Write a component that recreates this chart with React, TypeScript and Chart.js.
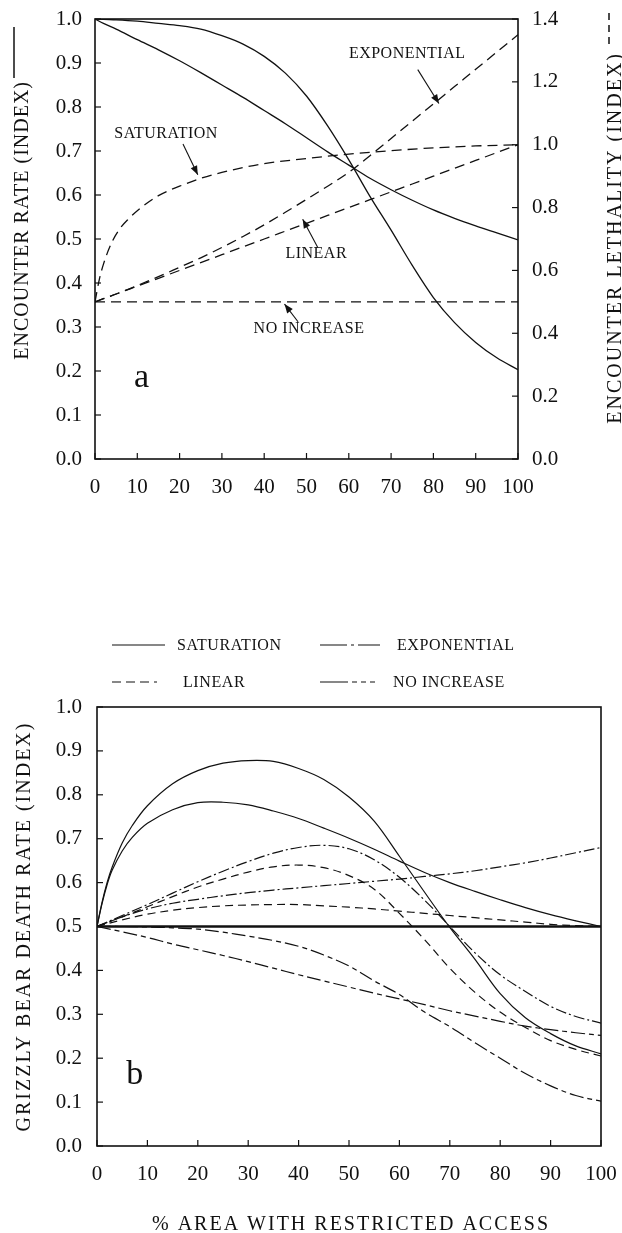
import React, { useEffect, useRef } from "react";
import { Chart, registerables } from "chart.js";

Chart.register(...registerables);

const SERIF = '"Liberation Serif", "Times New Roman", Times, serif';
const INK = "#111111";

// ---------- shared axis ticks ----------
const xTickValues = [0, 10, 20, 30, 40, 50, 60, 70, 80, 90, 100];
const xTickLabels = ["0", "10", "20", "30", "40", "50", "60", "70", "80", "90", "100"];
const unitTickValues = [0, 0.1, 0.2, 0.3, 0.4, 0.5, 0.6, 0.7, 0.8, 0.9, 1.0];
const unitTickLabels = ["0.0", "0.1", "0.2", "0.3", "0.4", "0.5", "0.6", "0.7", "0.8", "0.9", "1.0"];
const lethalTickValues = [0, 0.2, 0.4, 0.6, 0.8, 1.0, 1.2, 1.4];
const lethalTickLabels = ["0.0", "0.2", "0.4", "0.6", "0.8", "1.0", "1.2", "1.4"];

// ---------- panel a : encounter rate (left axis) ----------
const rateX = [0, 2, 5, 10, 15, 20, 25, 30, 35, 40, 45, 50, 55, 60, 65, 70, 75, 80, 85, 90, 95, 100];
const rateGradual = [1.0, 0.99, 0.977, 0.953, 0.93, 0.905, 0.878, 0.85, 0.822, 0.792, 0.762, 0.73, 0.698, 0.668, 0.638, 0.612, 0.588, 0.566, 0.547, 0.53, 0.514, 0.498];
const rateSigmoid = [1.0, 0.999, 0.998, 0.995, 0.99, 0.985, 0.977, 0.962, 0.943, 0.915, 0.877, 0.825, 0.757, 0.68, 0.597, 0.52, 0.44, 0.367, 0.31, 0.265, 0.23, 0.203];

// ---------- panel a : encounter lethality (right axis) ----------
const lethalX = [0, 2, 5, 10, 15, 20, 25, 30, 35, 40, 45, 50, 55, 60, 65, 70, 75, 80, 85, 90, 95, 100];
const lethalExponential = [0.5, 0.51, 0.525, 0.552, 0.58, 0.61, 0.64, 0.673, 0.708, 0.745, 0.785, 0.826, 0.868, 0.912, 0.965, 1.02, 1.075, 1.13, 1.185, 1.24, 1.295, 1.35];
const lethalLinear = [0.5, 0.51, 0.525, 0.55, 0.575, 0.6, 0.625, 0.65, 0.675, 0.7, 0.725, 0.75, 0.775, 0.8, 0.825, 0.85, 0.875, 0.9, 0.925, 0.95, 0.975, 1.0];
const lethalNoIncrease = [0.5, 0.5, 0.5, 0.5, 0.5, 0.5, 0.5, 0.5, 0.5, 0.5, 0.5, 0.5, 0.5, 0.5, 0.5, 0.5, 0.5, 0.5, 0.5, 0.5, 0.5, 0.5];
const saturationX = [0, 1, 2, 4, 6, 8, 10, 15, 20, 25, 30, 40, 50, 60, 70, 80, 90, 100];
const lethalSaturation = [0.5, 0.57, 0.62, 0.69, 0.735, 0.765, 0.79, 0.838, 0.868, 0.893, 0.912, 0.94, 0.956, 0.97, 0.981, 0.99, 0.996, 1.0];

// panel a annotations (text, label centre, arrow tail, arrow head) in data units of left axis
const panelANotes = [
  { text: "EXPONENTIAL", at: [73.8, 0.92], from: [76.3, 0.885], to: [81.3, 0.808] },
  { text: "SATURATION", at: [16.8, 0.739], from: [20.8, 0.716], to: [24.3, 0.646] },
  { text: "LINEAR", at: [52.3, 0.466], from: [52.7, 0.48], to: [49.1, 0.545] },
  { text: "NO INCREASE", at: [50.6, 0.295], from: [48.0, 0.312], to: [44.8, 0.352] },
];
const panelALetter = { text: "a", at: [11, 0.184] };

// ---------- panel b : grizzly bear death rate ----------
const deathSolidX = [0, 1, 2, 3, 5, 7, 10, 15, 20, 25, 30, 35, 40, 45, 50, 55, 60, 65, 70, 75, 80, 85, 90, 95, 100];
const deathSaturationSigmoid = [0.5, 0.555, 0.6, 0.635, 0.69, 0.73, 0.775, 0.825, 0.855, 0.872, 0.878, 0.876, 0.86, 0.835, 0.795, 0.74, 0.66, 0.578, 0.498, 0.425, 0.347, 0.292, 0.256, 0.228, 0.21];
const deathSaturationGradual = [0.5, 0.552, 0.595, 0.628, 0.672, 0.703, 0.735, 0.766, 0.782, 0.783, 0.777, 0.763, 0.746, 0.724, 0.701, 0.676, 0.649, 0.623, 0.6, 0.58, 0.561, 0.543, 0.527, 0.513, 0.5];
const deathX = [0, 5, 10, 15, 20, 25, 30, 35, 40, 45, 50, 55, 60, 65, 70, 75, 80, 85, 90, 95, 100];
const deathExponentialGradual = [0.5, 0.522, 0.54, 0.553, 0.562, 0.57, 0.577, 0.583, 0.588, 0.593, 0.598, 0.603, 0.608, 0.614, 0.62, 0.627, 0.636, 0.645, 0.656, 0.668, 0.68];
const deathExponentialSigmoid = [0.5, 0.525, 0.55, 0.576, 0.602, 0.626, 0.648, 0.667, 0.68, 0.685, 0.677, 0.652, 0.612, 0.56, 0.5, 0.44, 0.39, 0.352, 0.318, 0.295, 0.28];
const deathLinearSigmoid = [0.5, 0.522, 0.545, 0.568, 0.59, 0.608, 0.624, 0.636, 0.64, 0.634, 0.616, 0.585, 0.53, 0.47, 0.405, 0.35, 0.305, 0.27, 0.24, 0.22, 0.205];
const deathLinearGradual = [0.5, 0.515, 0.528, 0.537, 0.543, 0.547, 0.549, 0.55, 0.55, 0.547, 0.544, 0.54, 0.535, 0.53, 0.525, 0.52, 0.515, 0.51, 0.505, 0.502, 0.5];
const deathNoIncreaseSigmoid = [0.5, 0.5, 0.499, 0.497, 0.494, 0.487, 0.478, 0.468, 0.455, 0.435, 0.41, 0.376, 0.345, 0.305, 0.272, 0.235, 0.2, 0.165, 0.137, 0.115, 0.102];
const deathNoIncreaseGradual = [0.5, 0.488, 0.475, 0.46, 0.447, 0.434, 0.42, 0.405, 0.39, 0.376, 0.362, 0.348, 0.335, 0.322, 0.308, 0.296, 0.284, 0.273, 0.265, 0.258, 0.252];
const baselineX = [0, 100];
const deathBaseline = [0.5, 0.5];

const legendNames = ["SATURATION", "EXPONENTIAL", "LINEAR", "NO INCREASE"];
const panelBLetter = { text: "b", at: [7.5, 0.162] };

// line styles
const DASH_SOLID: number[] = [];
const DASH_EXP = [11, 3, 2, 3];
const DASH_LIN = [8, 5];
const DASH_NONE = [14, 4, 5, 4];
const DASH_A = [10, 6];
const legendDashes = [DASH_SOLID, [27, 4, 3, 4, 40], [9, 5, 9, 5, 9, 5, 3, 30], [28, 4, 5, 4, 5, 4, 5, 30]];

const pts = (xs: number[], ys: number[]) => xs.map((x, i) => ({ x, y: ys[i] }));

function line(ctx: CanvasRenderingContext2D, x1: number, y1: number, x2: number, y2: number) {
  ctx.beginPath();
  ctx.moveTo(x1, y1);
  ctx.lineTo(x2, y2);
  ctx.stroke();
}

function arrow(ctx: CanvasRenderingContext2D, x1: number, y1: number, x2: number, y2: number) {
  ctx.setLineDash([]);
  line(ctx, x1, y1, x2, y2);
  const ang = Math.atan2(y2 - y1, x2 - x1);
  const len = 9;
  const w = 3.5;
  ctx.beginPath();
  ctx.moveTo(x2, y2);
  ctx.lineTo(x2 - len * Math.cos(ang) + w * Math.sin(ang), y2 - len * Math.sin(ang) - w * Math.cos(ang));
  ctx.lineTo(x2 - len * Math.cos(ang) - w * Math.sin(ang), y2 - len * Math.sin(ang) + w * Math.cos(ang));
  ctx.closePath();
  ctx.fill();
}

function rotatedText(ctx: CanvasRenderingContext2D, text: string, x: number, y: number, align: CanvasTextAlign, font: string, spacing: string) {
  ctx.save();
  ctx.translate(x, y);
  ctx.rotate(-Math.PI / 2);
  ctx.font = font;
  (ctx as any).letterSpacing = spacing;
  ctx.textAlign = align;
  ctx.textBaseline = "alphabetic";
  ctx.fillText(text, 0, 0);
  ctx.restore();
}

function frameAndTicks(chart: any, withRight: boolean) {
  const { ctx, chartArea, scales } = chart;
  const { left, right, top, bottom } = chartArea;
  ctx.save();
  ctx.strokeStyle = INK;
  ctx.setLineDash([]);
  ctx.lineWidth = 1.6;
  ctx.strokeRect(left, top, right - left, bottom - top);
  ctx.lineWidth = 1.2;
  xTickValues.forEach((v) => {
    const px = scales.x.getPixelForValue(v);
    line(ctx, px, bottom, px, bottom - 6);
  });
  unitTickValues.forEach((v) => {
    const py = scales.y.getPixelForValue(v);
    line(ctx, left, py, left + 6, py);
  });
  if (withRight) {
    lethalTickValues.forEach((v) => {
      const py = scales.y1.getPixelForValue(v);
      line(ctx, right, py, right - 6, py);
    });
  }
  ctx.restore();
}

const tickFont = { family: SERIF, size: 21 };

const setTicks = (values: number[]) => (scale: any) => {
  scale.ticks = values.map((v) => ({ value: v }));
};

const fixSize = (dim: "width" | "height", size: number) => (s: any) => {
  s[dim] = size;
  s.paddingTop = 0;
  s.paddingBottom = 0;
  s.paddingLeft = 0;
  s.paddingRight = 0;
};

const panelAPlugin = {
  id: "panelA",
  afterDraw(chart: any) {
    const { ctx, scales } = chart;
    frameAndTicks(chart, true);
    ctx.save();
    ctx.fillStyle = INK;
    ctx.strokeStyle = INK;
    // axis titles
    rotatedText(ctx, "ENCOUNTER RATE (INDEX)", 28, 81, "right", `20px ${SERIF}`, "1px");
    ctx.lineWidth = 1.5;
    ctx.setLineDash([]);
    line(ctx, 14, 27, 14, 78);
    rotatedText(ctx, "ENCOUNTER LETHALITY (INDEX)", 621, 52, "right", `20px ${SERIF}`, "2px");
    ctx.setLineDash([7, 5]);
    line(ctx, 609, 44, 609, 12);
    ctx.setLineDash([]);
    // annotations
    ctx.font = `16px ${SERIF}`;
    (ctx as any).letterSpacing = "0.5px";
    ctx.textAlign = "center";
    ctx.textBaseline = "middle";
    ctx.lineWidth = 1.1;
    panelANotes.forEach((n) => {
      ctx.fillText(n.text, scales.x.getPixelForValue(n.at[0]), scales.y.getPixelForValue(n.at[1]));
      arrow(
        ctx,
        scales.x.getPixelForValue(n.from[0]),
        scales.y.getPixelForValue(n.from[1]),
        scales.x.getPixelForValue(n.to[0]),
        scales.y.getPixelForValue(n.to[1])
      );
    });
    (ctx as any).letterSpacing = "0px";
    ctx.font = `34px ${SERIF}`;
    ctx.fillText(panelALetter.text, scales.x.getPixelForValue(panelALetter.at[0]), scales.y.getPixelForValue(panelALetter.at[1]));
    ctx.restore();
  },
};

const panelBPlugin = {
  id: "panelB",
  afterDraw(chart: any) {
    const { ctx, scales, chartArea } = chart;
    frameAndTicks(chart, false);
    ctx.save();
    ctx.fillStyle = INK;
    ctx.strokeStyle = INK;
    // legend (2 x 2)
    const cols = [
      { lx0: 112, lx1: 165 },
      { lx0: 320, lx1: 380 },
    ];
    const textX = [177, 397, 183, 393];
    const rowsY = [45, 82];
    ctx.font = `16px ${SERIF}`;
    (ctx as any).letterSpacing = "0.6px";
    ctx.textAlign = "left";
    ctx.textBaseline = "middle";
    ctx.lineWidth = 1.2;
    legendNames.forEach((name, i) => {
      const c = cols[i % 2];
      const y = rowsY[Math.floor(i / 2)];
      ctx.setLineDash(legendDashes[i]);
      line(ctx, c.lx0, y, c.lx1, y);
      ctx.setLineDash([]);
      ctx.fillText(name, textX[i], y + 1);
    });
    // axis titles
    rotatedText(ctx, "GRIZZLY BEAR DEATH RATE (INDEX)", 30, (chartArea.top + chartArea.bottom) / 2, "center", `20px ${SERIF}`, "2px");
    ctx.font = `20px ${SERIF}`;
    (ctx as any).letterSpacing = "2px";
    ctx.textAlign = "center";
    ctx.textBaseline = "alphabetic";
    ctx.fillText("% AREA WITH RESTRICTED ACCESS", 351, 630);
    (ctx as any).letterSpacing = "0px";
    ctx.font = `34px ${SERIF}`;
    ctx.textBaseline = "middle";
    ctx.fillText(panelBLetter.text, scales.x.getPixelForValue(panelBLetter.at[0]), scales.y.getPixelForValue(panelBLetter.at[1]));
    ctx.restore();
  },
};

function lineDs(data: any[], dash: number[], width: number, axis = "y", smooth: "monotone" | "default" = "monotone") {
  return {
    data,
    yAxisID: axis,
    borderColor: INK,
    backgroundColor: INK,
    borderWidth: width,
    borderDash: dash,
    pointRadius: 0,
    fill: false,
    tension: 0.35,
    cubicInterpolationMode: smooth,
  };
}

function ChartA() {
  const ref = useRef<HTMLCanvasElement>(null);
  useEffect(() => {
    const chart = new Chart(ref.current as HTMLCanvasElement, {
      type: "line",
      data: {
        datasets: [
          lineDs(pts(rateX, rateGradual), DASH_SOLID, 1.3),
          lineDs(pts(rateX, rateSigmoid), DASH_SOLID, 1.3),
          lineDs(pts(saturationX, lethalSaturation), DASH_A, 1.3, "y1"),
          lineDs(pts(lethalX, lethalExponential), DASH_A, 1.3, "y1"),
          lineDs(pts(lethalX, lethalLinear), DASH_A, 1.3, "y1"),
          lineDs(pts(lethalX, lethalNoIncrease), DASH_A, 1.3, "y1"),
        ],
      },
      options: {
        animation: false,
        responsive: false,
        devicePixelRatio: 1,
        layout: { padding: { top: 19, left: 0, right: 0, bottom: 0 } },
        plugins: { legend: { display: false }, tooltip: { enabled: false } },
        scales: {
          x: {
            type: "linear",
            min: 0,
            max: 100,
            grid: { display: false, drawTicks: false },
            border: { display: false },
            afterBuildTicks: setTicks(xTickValues),
            afterFit: fixSize("height", 61),
            ticks: { font: tickFont, color: INK, padding: 16, maxRotation: 0, autoSkip: false, callback: (_v: any, i: number) => xTickLabels[i] },
          },
          y: {
            type: "linear",
            position: "left",
            min: 0,
            max: 1,
            grid: { display: false, drawTicks: false },
            border: { display: false },
            afterBuildTicks: setTicks(unitTickValues),
            afterFit: fixSize("width", 95),
            ticks: { font: tickFont, color: INK, padding: 13, autoSkip: false, callback: (_v: any, i: number) => unitTickLabels[i] },
          },
          y1: {
            type: "linear",
            position: "right",
            min: 0,
            max: 1.4,
            grid: { display: false, drawTicks: false },
            border: { display: false },
            afterBuildTicks: setTicks(lethalTickValues),
            afterFit: fixSize("width", 104),
            ticks: { font: tickFont, color: INK, padding: 14, autoSkip: false, callback: (_v: any, i: number) => lethalTickLabels[i] },
          },
        },
      } as any,
      plugins: [panelAPlugin],
    });
    return () => chart.destroy();
  }, []);
  return <canvas ref={ref} width={622} height={520} style={{ position: "absolute", left: 0, top: 0, width: 622, height: 520 }} />;
}

function ChartB() {
  const ref = useRef<HTMLCanvasElement>(null);
  useEffect(() => {
    const chart = new Chart(ref.current as HTMLCanvasElement, {
      type: "line",
      data: {
        datasets: [
          lineDs(pts(baselineX, deathBaseline), DASH_SOLID, 2.6),
          lineDs(pts(deathSolidX, deathSaturationSigmoid), DASH_SOLID, 1.2, "y", "default"),
          lineDs(pts(deathSolidX, deathSaturationGradual), DASH_SOLID, 1.2, "y", "default"),
          lineDs(pts(deathX, deathExponentialGradual), DASH_EXP, 1.2, "y", "default"),
          lineDs(pts(deathX, deathExponentialSigmoid), DASH_EXP, 1.2, "y", "default"),
          lineDs(pts(deathX, deathLinearSigmoid), DASH_LIN, 1.2, "y", "default"),
          lineDs(pts(deathX, deathLinearGradual), DASH_LIN, 1.2, "y", "default"),
          lineDs(pts(deathX, deathNoIncreaseSigmoid), DASH_NONE, 1.2, "y", "default"),
          lineDs(pts(deathX, deathNoIncreaseGradual), DASH_NONE, 1.2, "y", "default"),
        ],
      },
      options: {
        animation: false,
        responsive: false,
        devicePixelRatio: 1,
        layout: { padding: { top: 107, left: 0, right: 21, bottom: 0 } },
        plugins: { legend: { display: false }, tooltip: { enabled: false } },
        scales: {
          x: {
            type: "linear",
            min: 0,
            max: 100,
            grid: { display: false, drawTicks: false },
            border: { display: false },
            afterBuildTicks: setTicks(xTickValues),
            afterFit: fixSize("height", 87),
            ticks: { font: tickFont, color: INK, padding: 16, maxRotation: 0, autoSkip: false, callback: (_v: any, i: number) => xTickLabels[i] },
          },
          y: {
            type: "linear",
            position: "left",
            min: 0,
            max: 1,
            grid: { display: false, drawTicks: false },
            border: { display: false },
            afterBuildTicks: setTicks(unitTickValues),
            afterFit: fixSize("width", 97),
            ticks: { font: tickFont, color: INK, padding: 15, autoSkip: false, callback: (_v: any, i: number) => unitTickLabels[i] },
          },
        },
      } as any,
      plugins: [panelBPlugin],
    });
    return () => chart.destroy();
  }, []);
  return <canvas ref={ref} width={622} height={633} style={{ position: "absolute", left: 0, top: 600, width: 622, height: 633 }} />;
}

export default function App() {
  return (
    <div style={{ position: "absolute", left: 0, top: 0, width: 622, height: 1233, background: "#fff", overflow: "hidden" }}>
      <ChartA />
      <ChartB />
    </div>
  );
}
